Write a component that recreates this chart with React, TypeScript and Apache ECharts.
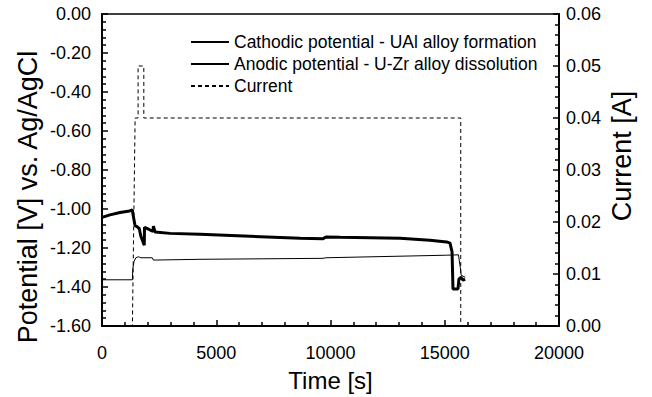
import React, { useEffect, useRef } from "react";
import * as echarts from "echarts";

// Cathodic potential (UAl alloy formation): time [s], potential [V]
const cathodicTime = [0, 350, 790, 1140, 1330, 1360, 1445, 1530, 1630, 1700, 1850, 1860, 2060, 2230, 2250, 2320, 2980, 4290, 6480, 8670, 9670, 9800, 10420, 13040, 14350, 15085, 15230, 15320, 15360, 15580, 15620, 15710, 15800, 15890];
const cathodicPotential = [-1.043, -1.03, -1.018, -1.012, -1.005, -1.03, -1.085, -1.09, -1.1, -1.14, -1.186, -1.094, -1.105, -1.115, -1.088, -1.118, -1.125, -1.13, -1.14, -1.15, -1.153, -1.143, -1.145, -1.15, -1.16, -1.169, -1.175, -1.22, -1.41, -1.41, -1.36, -1.35, -1.365, -1.36];

// Anodic potential (U-Zr alloy dissolution)
const anodicTime = [0, 1330, 1345, 1400, 1480, 1600, 1700, 2200, 2250, 4290, 9670, 9800, 15080, 15600, 15680, 15720, 15900];
const anodicPotential = [-1.363, -1.363, -1.31, -1.27, -1.25, -1.245, -1.25, -1.25, -1.262, -1.258, -1.253, -1.25, -1.237, -1.235, -1.3, -1.34, -1.35];

// Current [A]
const currentTime = [0, 1330, 1450, 1580, 1580, 1830, 1830, 15700, 15700, 15900];
const currentValue = [0, 0, 0.04, 0.04, 0.05, 0.05, 0.04, 0.04, 0, 0];

const seriesNames = [
  "Cathodic potential - UAl alloy formation",
  "Anodic potential - U-Zr alloy dissolution",
  "Current",
];

const xTicks = { min: 0, max: 20000, interval: 5000 };
const leftTicks = { min: -1.6, max: 0, interval: 0.2 };
const rightTicks = { min: 0, max: 0.06, interval: 0.01 };

const FONT = "'Liberation Sans', Arial, Helvetica, sans-serif";

const zip = (a: number[], b: number[]) => a.map((v, i) => [v, b[i]]);

export default function App() {
  const ref = useRef<HTMLDivElement>(null);
  useEffect(() => {
    if (!ref.current) return;
    const chart = echarts.init(ref.current, undefined, { renderer: "svg" });
    const axisLine = { show: true, onZero: false, lineStyle: { color: "#000", width: 2 } };
    const labelStyle = { color: "#000", fontSize: 18, fontFamily: FONT };
    const tick = { show: true, inside: true, length: 6, lineStyle: { color: "#000", width: 1.5 } };
    const minor = { show: true, splitNumber: 5, length: 4, lineStyle: { color: "#000", width: 1.5 } };
    chart.setOption({
      animation: false,
      backgroundColor: "#fff",
      grid: {
        left: 102,
        top: 14,
        right: 93,
        bottom: 70,
        show: true,
        borderColor: "#000",
        borderWidth: 1.5,
        containLabel: false,
      },
      legend: {
        orient: "vertical",
        left: 190,
        top: 33,
        padding: 0,
        itemWidth: 38,
        itemHeight: 14,
        itemGap: 4,
        data: seriesNames,
        itemStyle: { opacity: 0 },
        textStyle: { color: "#000", fontSize: 17.5, fontFamily: FONT },
      },
      graphic: [
        {
          type: "text",
          x: 28,
          y: 197,
          rotation: Math.PI / 2,
          style: {
            text: "Potential [V] vs. Ag/AgCl",
            fill: "#000",
            font: `27px ${FONT}`,
            textAlign: "center",
            textVerticalAlign: "middle",
          },
        },
        {
          type: "text",
          x: 622,
          y: 156,
          rotation: Math.PI / 2,
          style: {
            text: "Current [A]",
            fill: "#000",
            font: `27px ${FONT}`,
            textAlign: "center",
            textVerticalAlign: "middle",
          },
        },
      ],
      xAxis: {
        type: "value",
        min: xTicks.min,
        max: xTicks.max,
        interval: xTicks.interval,
        name: "Time [s]",
        nameLocation: "middle",
        nameGap: 42,
        nameTextStyle: { color: "#000", fontSize: 24, fontFamily: FONT },
        axisLine,
        axisTick: tick,
        minorTick: minor,
        axisLabel: { ...labelStyle, margin: 18, formatter: (v: number) => String(v) },
        splitLine: { show: false },
      },
      yAxis: [
        {
          type: "value",
          position: "left",
          min: leftTicks.min,
          max: leftTicks.max,
          interval: leftTicks.interval,
          axisLine,
          axisTick: tick,
          minorTick: minor,
          axisLabel: { ...labelStyle, margin: 11, formatter: (v: number) => v.toFixed(2) },
          splitLine: { show: false },
        },
        {
          type: "value",
          position: "right",
          min: rightTicks.min,
          max: rightTicks.max,
          interval: rightTicks.interval,
          axisLine,
          axisTick: tick,
          minorTick: minor,
          axisLabel: { ...labelStyle, margin: 7, formatter: (v: number) => v.toFixed(2) },
          splitLine: { show: false },
        },
      ],
      series: [
        {
          name: seriesNames[0],
          type: "line",
          yAxisIndex: 0,
          data: zip(cathodicTime, cathodicPotential),
          symbol: "none",
          lineStyle: { color: "#000", width: 3 },
          itemStyle: { color: "#000" },
        },
        {
          name: seriesNames[1],
          type: "line",
          yAxisIndex: 0,
          data: zip(anodicTime, anodicPotential),
          symbol: "none",
          lineStyle: { color: "#000", width: 1 },
          itemStyle: { color: "#000" },
        },
        {
          name: seriesNames[2],
          type: "line",
          yAxisIndex: 1,
          data: zip(currentTime, currentValue),
          symbol: "none",
          lineStyle: { color: "#000", width: 1, type: [4, 3] },
          itemStyle: { color: "#000" },
        },
      ],
    });
    return () => chart.dispose();
  }, []);
  return (
    <div
      ref={ref}
      style={{ position: "fixed", left: 0, top: 0, width: 652, height: 397, background: "#fff" }}
    />
  );
}
